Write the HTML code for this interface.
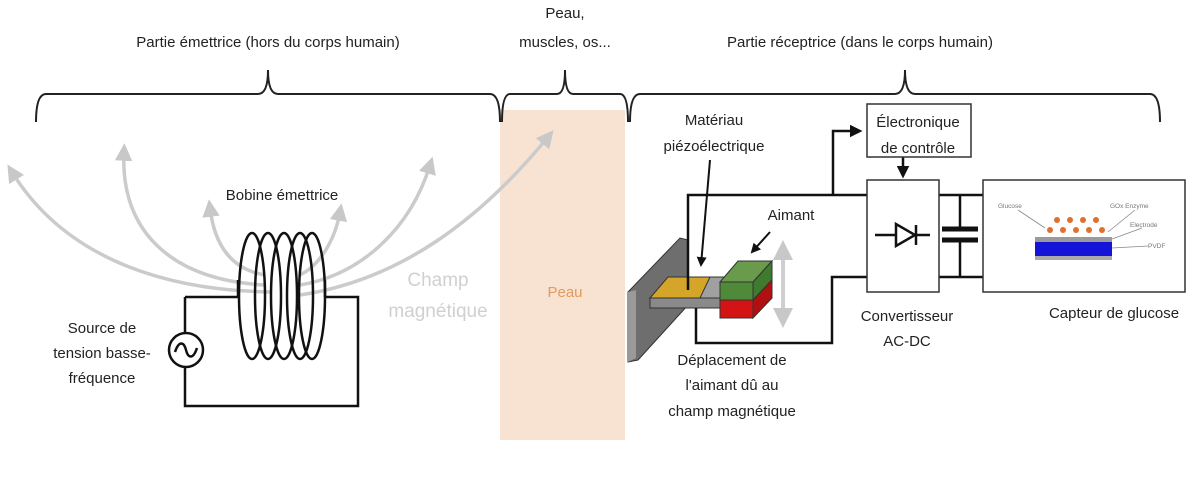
<!DOCTYPE html>
<html><head><meta charset="utf-8"><style>
html,body{margin:0;padding:0;background:#fff;}
svg{display:block;}
text{font-family:"Liberation Sans",sans-serif;}
</style></head><body>
<svg width="1195" height="478" viewBox="0 0 1195 478" xmlns="http://www.w3.org/2000/svg">
<defs>
<marker id="ga" viewBox="0 0 10 10" refX="5" refY="5" markerWidth="5" markerHeight="5" orient="auto-start-reverse"><path d="M0,0 L10,5 L0,10 z" fill="#c8c8c8"/></marker>
<marker id="ba" viewBox="0 0 10 10" refX="8" refY="5" markerWidth="5" markerHeight="5" orient="auto"><path d="M0,0 L10,5 L0,10 z" fill="#111"/></marker>
</defs>
<rect x="500" y="110" width="125" height="330" fill="#f8e3d3"/>
<text x="565" y="297" font-size="15" fill="#e39a5a" text-anchor="middle">Peau</text>
<!-- braces -->
<g fill="none" stroke="#222" stroke-width="2">
<path d="M36,122 Q36,94 46,94 L258,94 Q268,94 268,70 Q268,94 278,94 L490,94 Q500,94 500,122"/>
<path d="M502,122 Q502,94 510,94 L557,94 Q565,94 565,70 Q565,94 573,94 L620,94 Q628,94 628,122"/>
<path d="M630,122 Q630,94 640,94 L895,94 Q905,94 905,70 Q905,94 915,94 L1150,94 Q1160,94 1160,122"/>
</g>
<g font-size="15" fill="#222" text-anchor="middle">
<text x="268" y="47">Partie émettrice (hors du corps humain)</text>
<text x="565" y="18">Peau,</text>
<text x="565" y="47">muscles, os...</text>
<text x="860" y="47">Partie réceptrice (dans le corps humain)</text>
</g>
<!-- field lines -->
<g fill="none" stroke="#cbcbcb" stroke-width="3.5" marker-end="url(#ga)">
<path d="M270,292 C150,290 60,250 12,172"/>
<path d="M265,285 C170,280 120,230 124,152"/>
<path d="M265,275 C235,270 215,250 210,208"/>
<path d="M300,275 C320,265 335,240 340,212"/>
<path d="M300,285 C360,275 410,230 430,165"/>
<path d="M300,295 C400,280 480,220 548,137"/>
</g>
<text x="438" y="286" font-size="19" fill="#d0d0d0" text-anchor="middle">Champ</text>
<text x="438" y="317" font-size="19" fill="#d0d0d0" text-anchor="middle">magnétique</text>
<!-- coil circuit -->
<g fill="none" stroke="#111" stroke-width="2.5">
<path d="M238,297 L238,280 M185,297 L238,297 M325,297 L358,297 L358,406 L185,406 L185,367 M185,333 L185,297 M325,297 L325,280"/>
<ellipse cx="252" cy="296" rx="13" ry="63"/>
<ellipse cx="268" cy="296" rx="13" ry="63"/>
<ellipse cx="284" cy="296" rx="13" ry="63"/>
<ellipse cx="300" cy="296" rx="13" ry="63"/>
<ellipse cx="312" cy="296" rx="13" ry="63"/>
<circle cx="186" cy="350" r="17"/>
<path d="M175,352 C179,340 184,342 186,350 C188,358 193,360 197,348"/>
</g>
<text x="282" y="200" font-size="15" fill="#222" text-anchor="middle">Bobine émettrice</text>
<g font-size="15" fill="#222" text-anchor="middle">
<text x="102" y="333">Source de</text><text x="102" y="358">tension basse-</text><text x="102" y="383">fréquence</text>
</g>
<!-- receiver mechanics -->
<polygon points="628,292 680,238 688,240 688,305 638,360 628,362" fill="#6e6e6e" stroke="#333" stroke-width="1"/>
<polygon points="628,292 636,290 636,358 628,362" fill="#9a9a9a"/>
<polygon points="650,298 722,298 722,308 650,308" fill="#8a8a8a" stroke="#333" stroke-width="1"/>
<polygon points="650,298 722,298 730,277 670,277" fill="#a0a0a0" stroke="#333" stroke-width="1"/>
<polygon points="650,298 700,298 710,277 668,277" fill="#d5a52a" stroke="#333" stroke-width="1"/>
<rect x="720" y="282" width="33" height="18" fill="#4f8a3a" stroke="#333"/>
<rect x="720" y="300" width="33" height="18" fill="#d41414" stroke="#333"/>
<polygon points="720,282 738,261 772,261 753,282" fill="#6a9a4c" stroke="#333"/>
<polygon points="753,282 772,261 772,280 753,300" fill="#3f7a2e" stroke="#333"/>
<polygon points="753,300 772,280 772,298 753,318" fill="#b01010" stroke="#333"/>
<g stroke="#cfcfcf" stroke-width="4" marker-start="url(#ga)" marker-end="url(#ga)"><line x1="783" y1="250" x2="783" y2="318"/></g>
<!-- wires -->
<g fill="none" stroke="#111" stroke-width="2.5">
<path d="M688,290 L688,195 L867,195"/>
<path d="M833,195 L833,131 L860,131" marker-end="url(#ba)"/>
<path d="M696,308 L696,343 L832,343 L832,277 L867,277"/>
<path d="M903,157 L903,176" marker-end="url(#ba)"/>
<path d="M939,195 L983,195 M939,277 L983,277 M960,195 L960,229 M960,240 L960,277"/>
<path d="M710,160 L701,265" marker-end="url(#ba)" stroke-width="2"/>
<path d="M770,232 L752,252" marker-end="url(#ba)" stroke-width="2"/>
</g>
<g stroke="#111" stroke-width="5"><line x1="942" y1="229" x2="978" y2="229"/><line x1="942" y1="240" x2="978" y2="240"/></g>
<g fill="#fff" stroke="#333" stroke-width="1.5">
<rect x="867" y="104" width="104" height="53"/>
<rect x="867" y="180" width="72" height="112"/>
<rect x="983" y="180" width="202" height="112"/>
</g>
<g stroke="#111" stroke-width="2.5" fill="none">
<path d="M875,235 L930,235 M916,225 L916,245"/>
<polygon points="896,224 896,246 915,235" fill="#fff"/>
</g>
<!-- sensor -->
<rect x="1035" y="237" width="77" height="5" fill="#9a9a9a"/>
<rect x="1035" y="242" width="77" height="14" fill="#1414d8"/>
<rect x="1035" y="256" width="77" height="4" fill="#aaa"/>
<g fill="#e07030">
<circle cx="1050" cy="230" r="3"/><circle cx="1063" cy="230" r="3"/><circle cx="1076" cy="230" r="3"/><circle cx="1089" cy="230" r="3"/><circle cx="1102" cy="230" r="3"/>
<circle cx="1057" cy="220" r="3"/><circle cx="1070" cy="220" r="3"/><circle cx="1083" cy="220" r="3"/><circle cx="1096" cy="220" r="3"/>
</g>
<g stroke="#888" stroke-width="0.8"><line x1="1018" y1="210" x2="1045" y2="228"/><line x1="1135" y1="210" x2="1108" y2="232"/><line x1="1142" y1="228" x2="1112" y2="239"/><line x1="1148" y1="246" x2="1112" y2="248"/></g>
<g font-size="6.5" fill="#777">
<text x="998" y="208">Glucose</text><text x="1110" y="208">GOx Enzyme</text><text x="1130" y="227">Electrode</text><text x="1148" y="248">PVDF</text>
</g>
<!-- labels -->
<g font-size="15" fill="#222" text-anchor="middle">
<text x="714" y="125">Matériau</text><text x="714" y="151">piézoélectrique</text>
<text x="791" y="220">Aimant</text>
<text x="918" y="127">Électronique</text><text x="918" y="153">de contrôle</text>
<text x="732" y="365">Déplacement de</text><text x="732" y="390">l'aimant dû au</text><text x="732" y="416">champ magnétique</text>
<text x="907" y="321">Convertisseur</text><text x="907" y="346">AC-DC</text>
<text x="1114" y="318">Capteur de glucose</text>
</g>
</svg>
</body></html>
